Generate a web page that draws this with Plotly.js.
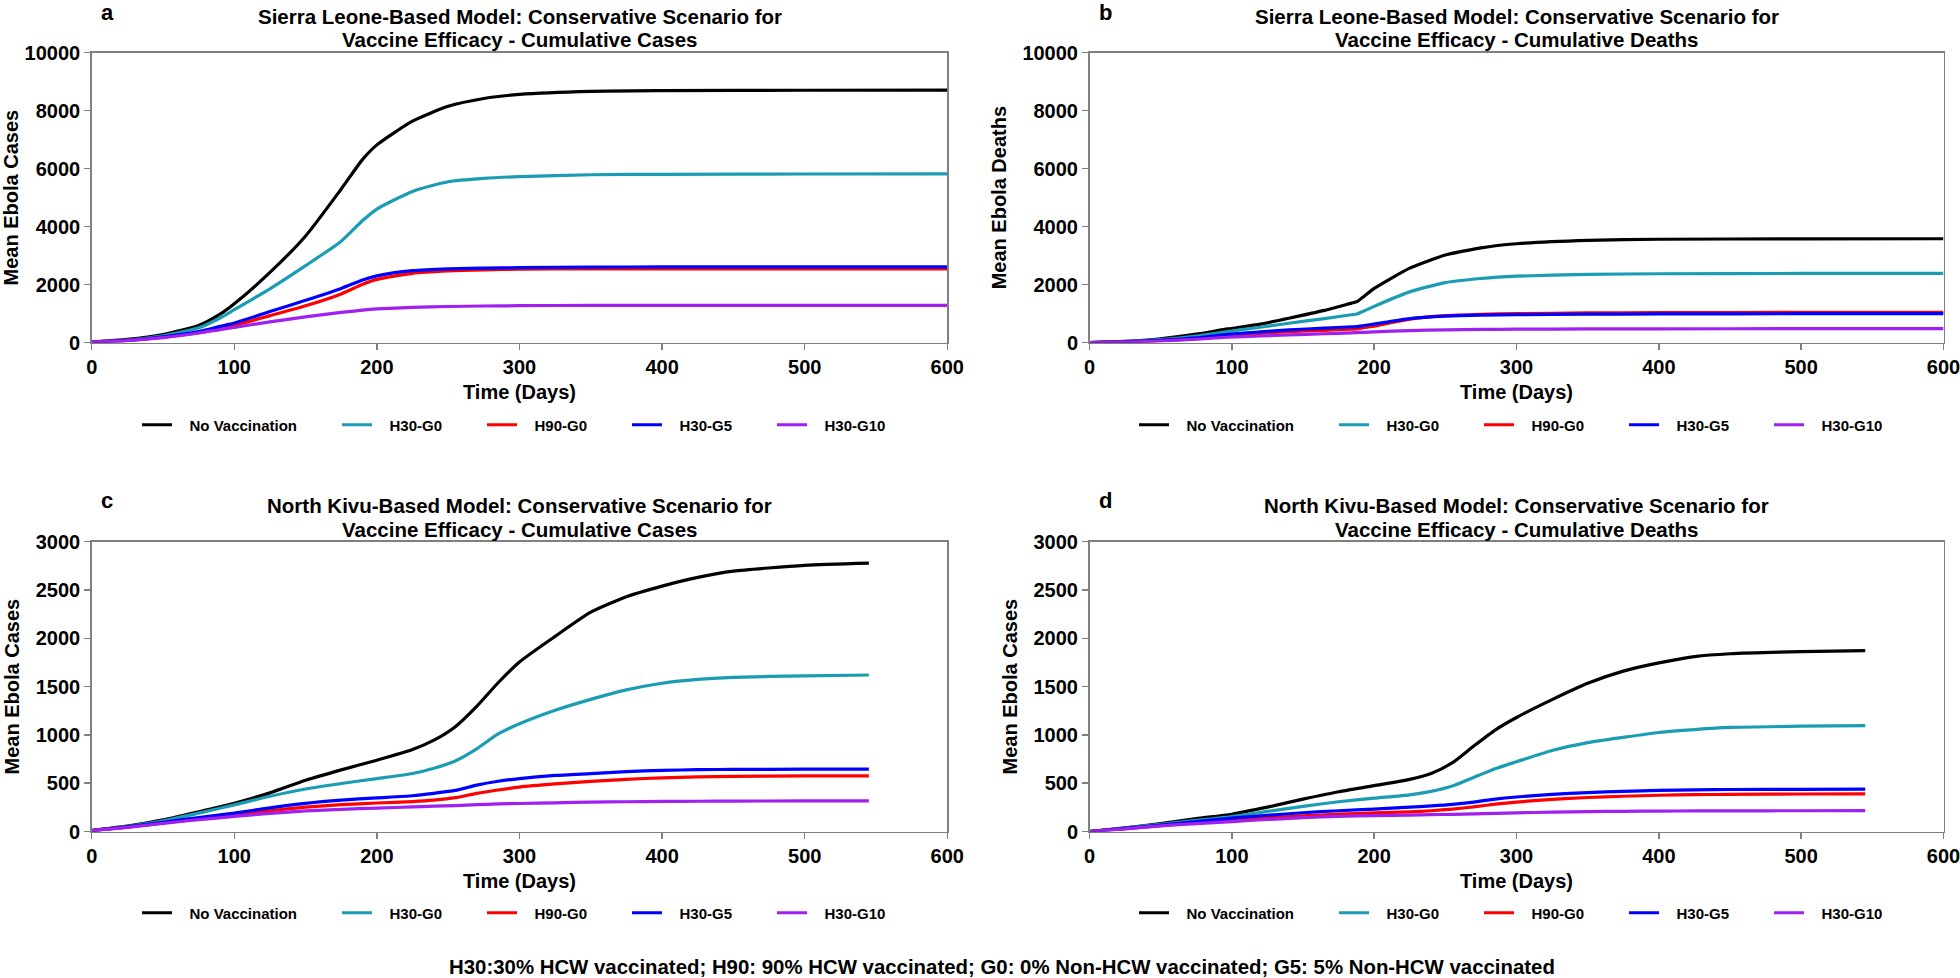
<!DOCTYPE html>
<html>
<head>
<meta charset="utf-8">
<script src="https://cdn.plot.ly/plotly-3.0.1.min.js"></script>
<style>
html,body{margin:0;padding:0;background:#fff;}
#chart{width:1960px;height:978px;}
</style>
</head>
<body>
<div id="chart"></div>
<script>
// ---------- DATA ----------
const seriesNames = ["No Vaccination", "H30-G0", "H90-G0", "H30-G5", "H30-G10"];
const xTicks = [0, 100, 200, 300, 400, 500, 600];

// Panel a: Sierra Leone, cumulative cases
const daysA = [0, 25, 50, 75, 90, 100, 125, 150, 175, 190, 200, 225, 250, 275, 300, 350, 400, 500, 600];
const aNoVac = [20, 110, 280, 590, 980, 1340, 2420, 3680, 5300, 6320, 6820, 7640, 8150, 8420, 8560, 8665, 8690, 8705, 8710];
const aH30G0 = [20, 90, 235, 510, 850, 1136, 1856, 2655, 3500, 4210, 4607, 5215, 5550, 5665, 5725, 5790, 5805, 5815, 5820];
const aH90G0 = [20, 75, 185, 340, 490, 596, 930, 1270, 1680, 2010, 2180, 2390, 2470, 2510, 2530, 2545, 2545, 2545, 2545];
const aH30G5 = [20, 80, 200, 380, 560, 676, 1070, 1460, 1870, 2160, 2300, 2480, 2545, 2570, 2585, 2605, 2610, 2610, 2610];
const aH30G10 = [20, 70, 170, 330, 450, 527, 715, 890, 1040, 1120, 1160, 1215, 1245, 1262, 1272, 1285, 1286, 1287, 1287];

// Panel b: Sierra Leone, cumulative deaths
const daysB = [0, 25, 50, 75, 97, 120, 140, 165, 184, 188, 193, 200, 225, 250, 275, 300, 350, 400, 500, 600];
const bNoVac = [0, 40, 130, 290, 471, 640, 839, 1110, 1361, 1413, 1600, 1870, 2570, 3020, 3270, 3410, 3527, 3565, 3580, 3582];
const bH30G0 = [0, 35, 105, 225, 379, 530, 666, 830, 960, 988, 1093, 1250, 1750, 2070, 2210, 2290, 2355, 2375, 2385, 2388];
const bH90G0 = [0, 22, 65, 140, 241, 320, 379, 425, 464, 471, 520, 570, 810, 930, 975, 1000, 1023, 1035, 1042, 1044];
const bH30G5 = [0, 25, 75, 160, 287, 370, 437, 500, 543, 551, 590, 640, 830, 915, 950, 965, 980, 990, 997, 999];
const bH30G10 = [0, 18, 55, 115, 184, 228, 264, 305, 338, 345, 355, 370, 415, 440, 455, 463, 471, 476, 480, 482];

// Panels c and d: North Kivu
const daysCD = [0, 25, 50, 75, 100, 125, 150, 175, 200, 225, 240, 255, 270, 285, 300, 325, 350, 375, 400, 425, 450, 500, 545];
const cNoVac = [10, 55, 120, 205, 292, 400, 530, 638, 738, 848, 945, 1085, 1295, 1540, 1755, 2020, 2270, 2430, 2540, 2630, 2695, 2755, 2778];
const cH30G0 = [10, 52, 110, 190, 276, 365, 440, 497, 548, 600, 655, 730, 855, 1010, 1115, 1255, 1368, 1466, 1535, 1575, 1596, 1612, 1620];
const cH90G0 = [10, 45, 88, 132, 173, 215, 252, 278, 295, 310, 325, 350, 395, 430, 460, 492, 518, 540, 556, 565, 570, 575, 576];
const cH30G5 = [10, 48, 95, 145, 190, 245, 292, 325, 348, 370, 395, 425, 480, 520, 548, 580, 600, 620, 633, 640, 643, 645, 646];
const cH30G10 = [10, 42, 85, 122, 156, 188, 213, 230, 242, 255, 262, 268, 278, 285, 290, 297, 304, 308, 311, 313, 315, 316, 317];

const dNoVac = [0, 38, 82, 133, 179, 252, 335, 412, 475, 540, 600, 712, 885, 1050, 1180, 1365, 1534, 1660, 1745, 1810, 1840, 1862, 1872];
const dH30G0 = [0, 35, 75, 115, 155, 208, 260, 308, 345, 380, 415, 470, 560, 650, 722, 838, 920, 975, 1025, 1055, 1077, 1090, 1096];
const dH90G0 = [0, 30, 60, 92, 121, 143, 162, 179, 192, 204, 215, 232, 255, 283, 305, 333, 352, 365, 375, 381, 385, 388, 389];
const dH30G5 = [0, 32, 66, 102, 138, 168, 194, 215, 232, 252, 265, 281, 305, 335, 357, 385, 403, 416, 426, 431, 435, 437, 438];
const dH30G10 = [0, 28, 58, 82, 103, 124, 143, 157, 165, 170, 174, 178, 183, 188, 193, 200, 206, 209, 211, 213, 214, 215, 216];

// ---------- STYLE ----------
const colors = ["#000000", "#1a9cb2", "#ff0000", "#0000ff", "#a020f0"];
const FONT = "Liberation Sans, Arial, Helvetica, sans-serif";
const W = 1960, H = 978;
const legendWidths = [155, 100, 100, 100, 100];
const NB = "\u00a0\u00a0\u00a0";

function makeTraces(days, arrs, xa, ya, leg, smoothing) {
  return arrs.map((vals, i) => ({
    type: "scatter", mode: "lines",
    x: days, y: vals,
    name: NB + seriesNames[i],
    xaxis: xa, yaxis: ya,
    legend: leg,
    legendwidth: legendWidths[i],
    line: {color: colors[i], width: 3.2, shape: "spline", smoothing: smoothing},
    hoverinfo: "x+y+name"
  }));
}

const traces = [].concat(
  makeTraces(daysA, [aNoVac, aH30G0, aH90G0, aH30G5, aH30G10], "x", "y", "legend", 0.6),
  makeTraces(daysB, [bNoVac, bH30G0, bH90G0, bH30G5, bH30G10], "x2", "y2", "legend2", 0.5),
  makeTraces(daysCD, [cNoVac, cH30G0, cH90G0, cH30G5, cH30G10], "x3", "y3", "legend3", 0.6),
  makeTraces(daysCD, [dNoVac, dH30G0, dH90G0, dH30G5, dH30G10], "x4", "y4", "legend4", 0.6)
);

// pixel geometry -> paper fractions
const px = v => v / W;
const py = v => 1 - v / H;
const xDomL = [px(91.7), px(947.3)];
const xDomR = [px(1089.5), px(1943.5)];
const yDomT = [py(342.6), py(52.7)];
const yDomB = [py(831.5), py(541.7)];

function xAxis(domain, anchor) {
  return {
    domain: domain, anchor: anchor, range: [0, 600],
    tickmode: "array", tickvals: xTicks,
    ticks: "outside", ticklen: 6, tickwidth: 1.5, tickcolor: "#808080",
    showline: true, linecolor: "#808080", linewidth: 1.5, mirror: true,
    showgrid: false, zeroline: false, automargin: false,
    ticklabeloverflow: "allow",
    tickfont: {family: FONT, size: 20, weight: "bold", color: "#000"},
    title: {text: "Time (Days)", standoff: 8, font: {family: FONT, size: 20, weight: "bold", color: "#000"}}
  };
}
function yAxis(domain, anchor, max, dtick, label) {
  return {
    domain: domain, anchor: anchor, range: [0, max],
    tick0: 0, dtick: dtick, tickformat: "d",
    ticks: "outside", ticklen: 6, tickwidth: 1.5, tickcolor: "#808080",
    showline: true, linecolor: "#808080", linewidth: 1.5, mirror: true,
    showgrid: false, zeroline: false, automargin: false,
    tickfont: {family: FONT, size: 20, weight: "bold", color: "#000"},
    title: {text: label, standoff: 10, font: {family: FONT, size: 20, weight: "bold", color: "#000"}}
  };
}
function legend(xpx, ypx) {
  return {
    orientation: "h", x: px(xpx), y: py(ypx), xanchor: "left", yanchor: "middle",
    xref: "paper", yref: "paper",
    itemwidth: 30, bgcolor: "rgba(0,0,0,0)",
    font: {family: FONT, size: 15, weight: "bold", color: "#000"},
    itemclick: false, itemdoubleclick: false
  };
}

const titleFont = {family: FONT, size: 20.5, weight: "bold", color: "#000"};
const letterFont = {family: FONT, size: 22, weight: "bold", color: "#000"};
function ann(text, xpx, ypx, font, extra) {
  return Object.assign({text: text, x: px(xpx), y: py(ypx), xref: "paper", yref: "paper",
          xanchor: "center", yanchor: "middle", showarrow: false, font: font}, extra || {});
}

const annotations = [
  ann("a", 107, 0, letterFont, {yanchor: "top", yshift: 2}),
  ann("b", 1105, 0, letterFont, {yanchor: "top", yshift: 2}),
  ann("c", 107, 500, letterFont),
  ann("d", 1105, 500, letterFont),
  ann("Sierra Leone-Based Model: Conservative Scenario for", 519.5, 16, titleFont),
  ann("Vaccine Efficacy - Cumulative Cases", 519.5, 39.5, titleFont),
  ann("Sierra Leone-Based Model: Conservative Scenario for", 1516.5, 16, titleFont),
  ann("Vaccine Efficacy - Cumulative Deaths", 1516.5, 39.5, titleFont),
  ann("North Kivu-Based Model: Conservative Scenario for", 519.5, 505, titleFont),
  ann("Vaccine Efficacy - Cumulative Cases", 519.5, 529, titleFont),
  ann("North Kivu-Based Model: Conservative Scenario for", 1516.5, 505, titleFont),
  ann("Vaccine Efficacy - Cumulative Deaths", 1516.5, 529, titleFont),
  ann("H30:30% HCW vaccinated; H90: 90% HCW vaccinated; G0: 0% Non-HCW vaccinated; G5: 5% Non-HCW vaccinated",
      1002, 967, {family: FONT, size: 20.4, weight: "bold", color: "#000"})
];

const layout = {
  width: W, height: H,
  margin: {l: 0, r: 0, t: 0, b: 0, autoexpand: false},
  paper_bgcolor: "#fff", plot_bgcolor: "#fff",
  showlegend: true,
  xaxis: xAxis(xDomL, "y"),
  yaxis: yAxis(yDomT, "x", 10000, 2000, "Mean Ebola Cases"),
  xaxis2: xAxis(xDomR, "y2"),
  yaxis2: yAxis(yDomT, "x2", 10000, 2000, "Mean Ebola Deaths"),
  xaxis3: xAxis(xDomL, "y3"),
  yaxis3: yAxis(yDomB, "x3", 3000, 500, "Mean Ebola Cases"),
  xaxis4: xAxis(xDomR, "y4"),
  yaxis4: yAxis(yDomB, "x4", 3000, 500, "Mean Ebola Cases"),
  legend: legend(137, 425),
  legend2: legend(1134, 425),
  legend3: legend(137, 913),
  legend4: legend(1134, 913),
  annotations: annotations
};

Plotly.newPlot("chart", traces, layout, {displayModeBar: false, staticPlot: true});
</script>
</body>
</html>
